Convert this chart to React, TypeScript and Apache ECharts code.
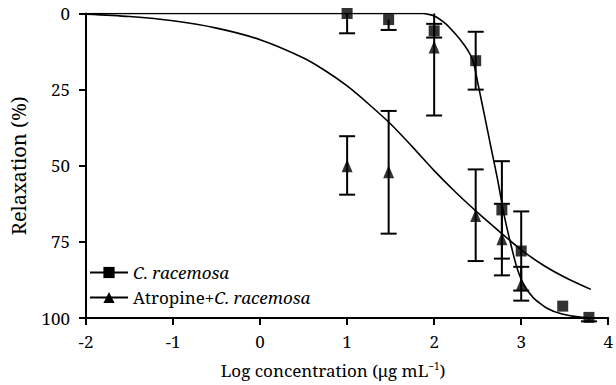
import React, { useEffect, useRef } from "react";
import * as echarts from "echarts";

// Log concentration (µg/mL) of the tested doses
const doseLog = [1, 1.477, 2, 2.477, 2.778, 3, 3.477, 3.778];
// C. racemosa alone: mean relaxation and error-bar limits (%)
const cMean = [0, 2, 5.7, 15.5, 64.5, 78, 96.1, 99.8];
const cLow = [0, 2, 3.4, 6, 48.5, 65, 96.1, 99.8];
const cHigh = [6.5, 5.4, 7.9, 25, 80.5, 91, 96.1, 101.1];
// Atropine + C. racemosa (first six doses)
const aDose = [1, 1.477, 2, 2.477, 2.778, 3];
const aMean = [50, 52, 11, 66.3, 74, 89];
const aLow = [40.3, 32, 0, 51.2, 62.5, 83.2];
const aHigh = [59.5, 72.3, 33.5, 81.3, 86, 94.3];
// Fitted curves
const cFitX = [-2, 1.87, 2, 2.13, 2.24, 2.35, 2.42, 2.46, 2.5, 2.58, 2.65, 2.73, 2.8, 2.88, 2.95, 3.03, 3.14, 3.29, 3.47, 3.7, 4];
const cFitY = [0, 0, 0.8, 3.3, 6.6, 10.5, 13.8, 17, 22.6, 33.7, 43.6, 54.7, 65.7, 75.7, 83.4, 89, 93.4, 96.7, 98.7, 99.8, 100];
const aFitX = [-2, -1.5, -1, -0.5, 0, 0.5, 0.75, 1, 1.25, 1.5, 1.75, 2, 2.25, 2.5, 2.75, 3, 3.25, 3.5, 3.8];
const aFitY = [0.2, 1, 2.4, 4.8, 8.6, 14.6, 18.8, 23.8, 29.8, 36.3, 43.8, 51.6, 58.8, 65.4, 71.6, 77.6, 82.6, 86.6, 90.6];
// Axis ticks
const xMin = -2;
const xMax = 4;
const yTicks = [0, 25, 50, 75, 100];

const FONT = '"Noto Sans", sans-serif'.replace("Noto Sans", "Noto Serif").replace("sans-serif", "serif");
const NAME_C = "C. racemosa";
const NAME_A = "Atropine+C. racemosa";

export default function App() {
  const ref = useRef<HTMLDivElement>(null);
  useEffect(() => {
    if (!ref.current) return;
    const chart = echarts.init(ref.current, undefined, { renderer: "svg" });
    const errRender = (params: any, api: any) => {
      const x = api.value(0);
      const lo = api.value(1);
      const hi = api.value(2);
      const m = api.value(3);
      const p1 = api.coord([x, lo]);
      const p2 = api.coord([x, hi]);
      const w = 8;
      const st = { stroke: "#000", lineWidth: 2 };
      const ch: any[] = [
        { type: "line", shape: { x1: p1[0], y1: p1[1], x2: p2[0], y2: p2[1] }, style: st },
      ];
      if (lo !== m && lo > 0)
        ch.push({ type: "line", shape: { x1: p1[0] - w, y1: p1[1], x2: p1[0] + w, y2: p1[1] }, style: st });
      if (hi !== m && hi > 0)
        ch.push({ type: "line", shape: { x1: p2[0] - w, y1: p2[1], x2: p2[0] + w, y2: p2[1] }, style: st });
      return { type: "group", children: ch };
    };
    chart.setOption({
      animation: false,
      backgroundColor: "#fff",
      textStyle: { fontFamily: FONT },
      grid: { left: 80, right: -2, top: 13.5, bottom: 67, containLabel: false },
      legend: {
        orient: "vertical",
        left: 84,
        top: 259,
        itemWidth: 38,
        itemHeight: 14,
        itemGap: 8,
        data: [NAME_C, NAME_A],
        formatter: (n: string) => (n === NAME_C ? "{i|C. racemosa}" : "{n|Atropine+}{i|C. racemosa}"),
        textStyle: {
          fontFamily: FONT,
          fontSize: 17,
          color: "#000",
          rich: {
            i: { fontFamily: FONT, fontSize: 17, fontStyle: "italic", color: "#000" },
            n: { fontFamily: FONT, fontSize: 17, color: "#000" },
          },
        },
      },
      xAxis: {
        type: "value",
        min: xMin,
        max: xMax,
        interval: 1,
        name: "{a|Log concentration (μg mL}{s|−1}{a|)}",
        nameLocation: "middle",
        nameGap: 43,
        nameTextStyle: {
          fontFamily: FONT,
          padding: [0, 28, 0, 0],
          rich: {
            a: { fontFamily: FONT, fontSize: 17, color: "#000" },
            s: { fontFamily: FONT, fontSize: 10, color: "#000", verticalAlign: "top", padding: [0, 0, 8, 0] },
          },
        },
        axisLine: { onZero: false, lineStyle: { color: "#000", width: 2 } },
        axisTick: { show: true, length: 7, lineStyle: { color: "#000", width: 2 } },
        axisLabel: { fontFamily: FONT, fontSize: 17, color: "#000", margin: 15, showMaxLabel: true, showMinLabel: true },
        splitLine: { show: false },
      },
      yAxis: {
        type: "value",
        inverse: true,
        min: yTicks[0],
        max: yTicks[yTicks.length - 1],
        interval: 25,
        name: "Relaxation (%)",
        nameLocation: "middle",
        nameGap: 58,
        nameTextStyle: { fontFamily: FONT, fontSize: 20, color: "#000" },
        axisLine: { show: true, onZero: false, lineStyle: { color: "#000", width: 2 } },
        axisTick: { show: true, length: 7, lineStyle: { color: "#000", width: 2 } },
        axisLabel: { fontFamily: FONT, fontSize: 17, color: "#000", margin: 16 },
        splitLine: { show: false },
      },
      series: [
        {
          name: NAME_C,
          type: "line",
          data: cFitX.map((x, i) => [x, cFitY[i]]),
          smooth: 0.2,
          symbol: "rect",
          showSymbol: false,
          lineStyle: { color: "#000", width: 1.6 },
          itemStyle: { color: "#000" },
          z: 2,
        },
        {
          name: NAME_A,
          type: "line",
          data: aFitX.map((x, i) => [x, aFitY[i]]),
          smooth: 0.3,
          symbol: "triangle",
          showSymbol: false,
          lineStyle: { color: "#000", width: 1.6 },
          itemStyle: { color: "#000" },
          z: 2,
        },
        {
          type: "custom",
          renderItem: errRender,
          data: doseLog.map((x, i) => [x, cLow[i], cHigh[i], cMean[i]]),
          z: 3,
          silent: true,
        },
        {
          type: "custom",
          renderItem: errRender,
          data: aDose.map((x, i) => [x, aLow[i], aHigh[i], aMean[i]]),
          z: 3,
          silent: true,
        },
        {
          type: "scatter",
          data: doseLog.map((x, i) => [x, cMean[i]]),
          symbol: "rect",
          symbolSize: 11,
          itemStyle: { color: "#000" },
          z: 4,
        },
        {
          type: "scatter",
          data: aDose.map((x, i) => [x, aMean[i]]),
          symbol: "triangle",
          symbolSize: [11, 13],
          itemStyle: { color: "#000" },
          z: 4,
        },
      ],
    });
    return () => chart.dispose();
  }, []);
  return <div ref={ref} style={{ position: "fixed", left: 0, top: 0, width: 616, height: 385 }} />;
}
